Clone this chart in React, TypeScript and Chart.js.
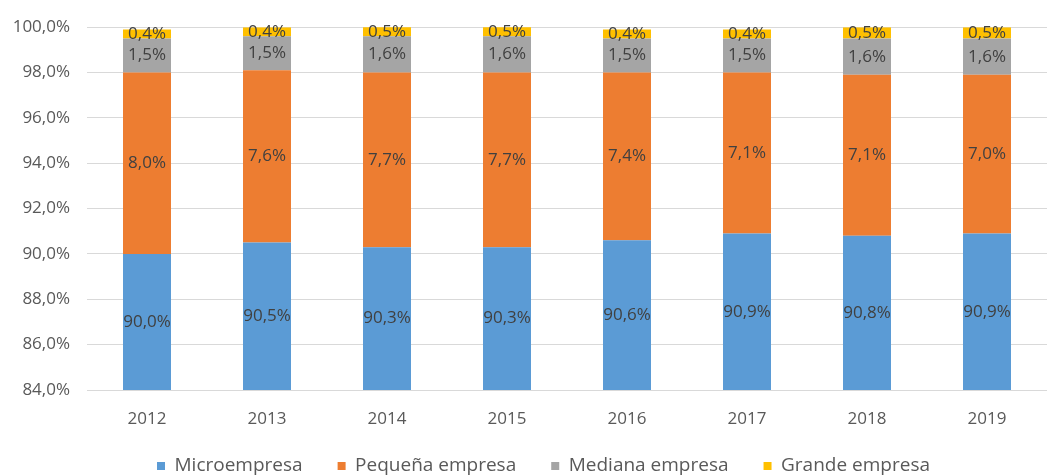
import React, { useEffect, useRef } from "react";
import { Chart, registerables } from "chart.js";

Chart.register(...registerables);

const categories = ["2012", "2013", "2014", "2015", "2016", "2017", "2018", "2019"];
const microempresa = [90.0, 90.5, 90.3, 90.3, 90.6, 90.9, 90.8, 90.9];
const pequenaEmpresa = [8.0, 7.6, 7.7, 7.7, 7.4, 7.1, 7.1, 7.0];
const medianaEmpresa = [1.5, 1.5, 1.6, 1.6, 1.5, 1.5, 1.6, 1.6];
const grandeEmpresa = [0.4, 0.4, 0.5, 0.5, 0.4, 0.4, 0.5, 0.5];
const seriesNames = ["Microempresa", "Pequeña empresa", "Mediana empresa", "Grande empresa"];
const seriesColors = ["#5B9BD5", "#ED7D31", "#A5A5A5", "#FFC000"];
const yMin = 84;
const yMax = 100;
const yStep = 2;

const FONT = '"Open Sans", "DejaVu Sans", sans-serif';
const fmt = (v: number) => v.toFixed(1).replace(".", ",") + "%";

const LEGEND_X = 157;
const LEGEND_Y = 466;
const LEGEND_FONT = 19;
const LEGEND_PAD = 35;
const X_AXIS_H = 45;

const barLabels = {
  id: "barLabels",
  afterDatasetsDraw(chart: any) {
    const { ctx, chartArea } = chart;
    ctx.save();
    ctx.font = `17px ${FONT}`;
    ctx.fillStyle = "#404040";
    ctx.textAlign = "center";
    ctx.textBaseline = "middle";
    chart.data.datasets.forEach((ds: any, di: number) => {
      const meta = chart.getDatasetMeta(di);
      meta.data.forEach((el: any, i: number) => {
        const { x, y, base } = el.getProps(["x", "y", "base"], true);
        const top = Math.max(Math.min(y, base), chartArea.top);
        const bottom = Math.min(Math.max(y, base), chartArea.bottom);
        if (bottom <= top) return;
        ctx.fillText(fmt(ds.data[i]), x, (top + bottom) / 2);
      });
    });
    ctx.restore();
  },
};

const legendShift = {
  id: "legendShift",
  afterLayout(chart: any) {
    const lg = chart.legend;
    if (!lg || !lg.lineWidths) return;
    const pad = lg.options.labels.padding;
    const curX = (lg.left + pad + lg.right - lg.lineWidths[0]) / 2;
    const dx = LEGEND_X - curX;
    lg.left += dx;
    lg.right += dx;
    const newTop = LEGEND_Y - LEGEND_FONT / 2 - pad;
    const dy = newTop - lg.top;
    lg.top += dy;
    lg.bottom += dy;
  },
};

export default function App() {
  const ref = useRef<HTMLCanvasElement | null>(null);
  useEffect(() => {
    document.body.style.margin = "0";
    document.body.style.overflow = "hidden";
    if (!ref.current) return;
    const values = [microempresa, pequenaEmpresa, medianaEmpresa, grandeEmpresa];
    const legendH = LEGEND_FONT + LEGEND_PAD + 10;
    const bottomPad = 476 - 390 - legendH - X_AXIS_H;
    const chart = new Chart(ref.current, {
      type: "bar",
      data: {
        labels: categories,
        datasets: values.map((d, i) => ({
          label: seriesNames[i],
          data: d,
          backgroundColor: seriesColors[i],
          borderWidth: 0,
          barPercentage: 0.4,
          categoryPercentage: 1,
        })),
      },
      plugins: [barLabels, legendShift],
      options: {
        animation: false,
        responsive: true,
        maintainAspectRatio: false,
        layout: { padding: { top: 22, right: -13, bottom: bottomPad, left: 0 } },
        plugins: {
          tooltip: { enabled: false },
          title: { display: false },
          legend: {
            position: "bottom",
            labels: {
              boxWidth: 8,
              boxHeight: 8,
              padding: LEGEND_PAD,
              color: "#595959",
              font: { family: FONT, size: LEGEND_FONT },
            },
          },
        },
        scales: {
          x: {
            stacked: true,
            grid: { display: false },
            border: { display: false },
            ticks: { color: "#595959", font: { family: FONT, size: 17 }, padding: 11 },
            afterFit: (s: any) => {
              s.height = X_AXIS_H;
            },
          },
          y: {
            stacked: true,
            min: yMin,
            max: yMax,
            grid: { color: "#D9D9D9", lineWidth: 1, drawTicks: false },
            border: { display: false },
            ticks: {
              stepSize: yStep,
              color: "#595959",
              font: { family: FONT, size: 17 },
              padding: 17,
              callback: (v: any) => fmt(Number(v)),
            },
            afterFit: (s: any) => {
              s.width = 87;
            },
          },
        },
      },
    });
    return () => chart.destroy();
  }, []);
  return (
    <div style={{ width: "1047px", height: "476px", position: "relative" }}>
      <canvas ref={ref} />
    </div>
  );
}
